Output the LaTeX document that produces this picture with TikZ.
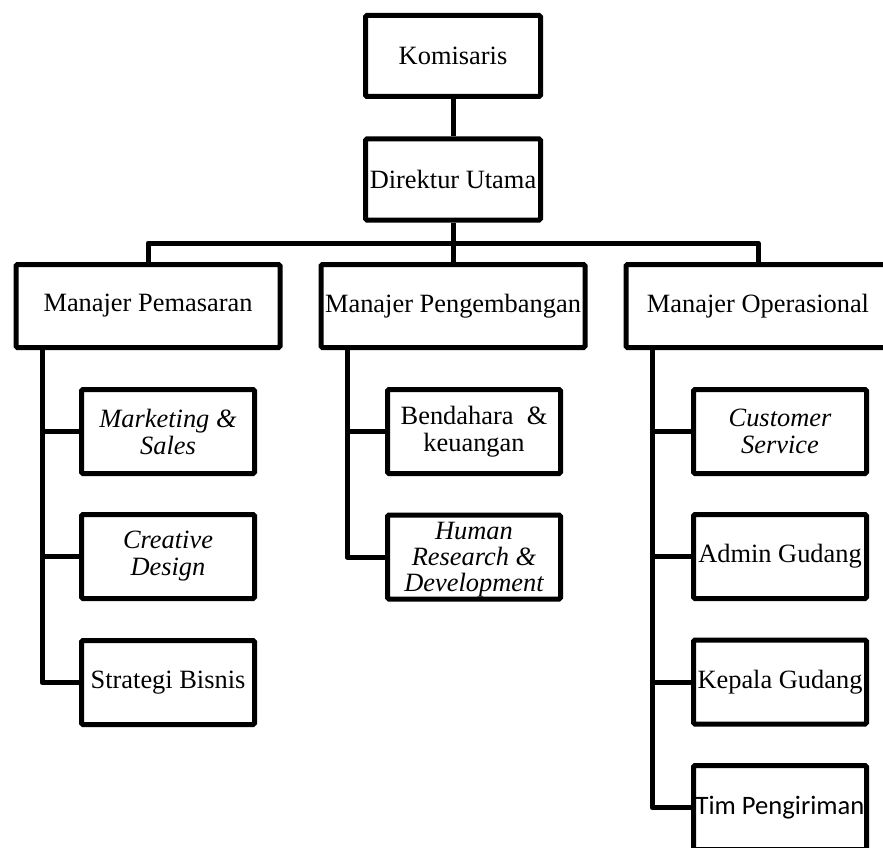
\documentclass[tikz,border=0pt]{standalone}
\usepackage{fontspec}
\setmainfont{Liberation Serif}
\newfontfamily\calfont{Carlito}
\begin{document}
\begin{tikzpicture}[x=1pt,y=-1pt,
  box/.style={draw=black,line width=5pt,rounded corners=1.5pt,fill=white,inner sep=0pt,align=center,
    font=\fontsize{26.4}{27}\selectfont},
  topbox/.style={box,minimum width=175pt,minimum height=81pt},
  mgrbox/.style={box,minimum width=264pt,minimum height=83pt},
  subbox/.style={box,minimum width=173pt,minimum height=84pt},
  conn/.style={line width=5pt,line join=round,line cap=butt}]
\useasboundingbox (0,0) rectangle (883,848);
\fill[white] (0,0) rectangle (883,848);
% nodes
\node[topbox] (kom) at (453,56) {Komisaris};
\node[topbox] (dir) at (453,179.5) {Direktur Utama};
\node[mgrbox] (mp) at (148,306) {Manajer Pemasaran};
\node[mgrbox] (mpg) at (453,306) {Manajer Pengembangan};
\node[mgrbox] (mo) at (758,306) {Manajer Operasional};
\node[subbox] (mk) at (168,431.5) {\itshape Marketing \&\\\itshape Sales};
\node[subbox] (cd) at (168,556.5) {\itshape Creative\\\itshape Design};
\node[subbox] (sb) at (168,682.5) {Strategi Bisnis};
\node[subbox] (bk) at (474,431.5) {Bendahara\ \ \&\\keuangan};
\node[subbox] (hr) at (474,557) {\rule{0pt}{23pt}\itshape Human\\[-1pt]\itshape Research \&\\[-1pt]\itshape Development};
\node[subbox] (cs) at (780,431.5) {\itshape Customer\\\itshape Service};
\node[subbox] (ag) at (780,556.5) {Admin Gudang};
\node[subbox] (kg) at (780,682) {Kepala Gudang};
\node[subbox] (tp) at (780,807.5) {\calfont\fontsize{26.6}{28}\selectfont Tim Pengiriman};
% helper coordinates
\coordinate (bus) at (0,243);
\coordinate (sL) at (42,0);
\coordinate (sM) at (347,0);
\coordinate (sR) at (652,0);
% connectors
\draw[conn] (kom.south) -- (dir.north);
\draw[conn] (dir.south) -- (mpg.north);
\draw[conn] (mp.north) -- (mp.north |- bus) -- (mo.north |- bus) -- (mo.north);
\draw[conn] (sL |- mp.south) -- (sL |- sb.west) -- (sb.west);
\draw[conn] (sL |- mk.west) -- (mk.west);
\draw[conn] (sL |- cd.west) -- (cd.west);
\draw[conn] (sM |- mpg.south) -- (sM |- hr.west) -- (hr.west);
\draw[conn] (sM |- bk.west) -- (bk.west);
\draw[conn] (sR |- mo.south) -- (sR |- tp.west) -- (tp.west);
\draw[conn] (sR |- cs.west) -- (cs.west);
\draw[conn] (sR |- ag.west) -- (ag.west);
\draw[conn] (sR |- kg.west) -- (kg.west);
\end{tikzpicture}
\end{document}
